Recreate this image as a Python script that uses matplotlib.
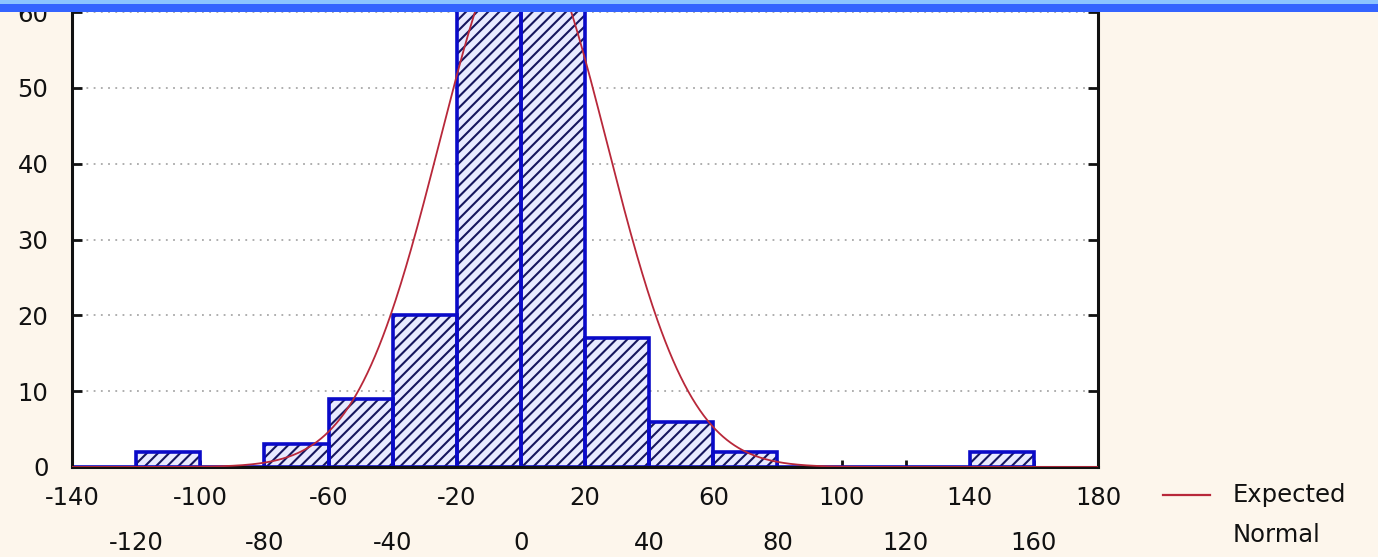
import numpy as np
import matplotlib
matplotlib.use("Agg")
import matplotlib.pyplot as plt
from matplotlib.patches import Rectangle
from matplotlib.ticker import FixedLocator, FixedFormatter

plt.rcParams['axes.unicode_minus'] = False
plt.rcParams['font.family'] = ['DejaVu Sans']
plt.rcParams['hatch.linewidth'] = 1.5

# Histogram data (bins of width 20); central bars exceed the visible range
bin_left = [-140, -120, -100, -80, -60, -40, -20, 0, 20, 40, 60, 80, 100, 120, 140]
counts = [0, 2, 0, 3, 9, 20, 84, 86, 17, 6, 2, 0, 0, 0, 2]
bin_width = 20

# Expected normal parameters
normal_mean = 0.7
normal_sd = 26.0
normal_n = 231

xticks_row1 = [-140, -100, -60, -20, 20, 60, 100, 140, 180]
xticks_row2 = [-120, -80, -40, 0, 40, 80, 120, 160]
yticks = [0, 10, 20, 30, 40, 50, 60]

W, H = 1378, 557
fig = plt.figure(figsize=(W / 100, H / 100), dpi=100)
fig.patch.set_facecolor('#fdf6ec')

ax = fig.add_axes([72 / W, 1 - 467 / H, (1098 - 72) / W, (467 - 12) / H])
ax.set_facecolor('white')
ax.set_xlim(-140, 180)
ax.set_ylim(0, 60)

# grid
for yv in yticks[1:]:
    ax.axhline(yv, color='#a8a8a8', lw=1.3, ls=(0, (1, 3)), zorder=0.5)

# hatched fill
ax.bar(bin_left, counts, width=bin_width, align='edge', facecolor='#e8eaff',
       edgecolor='#16165e', hatch='///', linewidth=0, zorder=1)
# blue outlines
ax.bar(bin_left, counts, width=bin_width, align='edge', facecolor='none',
       edgecolor='#0a0ac8', linewidth=2.6, zorder=2)

# expected normal curve
xs = np.linspace(-140, 180, 800)
ys = normal_n * bin_width / (normal_sd * np.sqrt(2 * np.pi)) * np.exp(-(xs - normal_mean) ** 2 / (2 * normal_sd ** 2))
ax.plot(xs, ys, color='#b8283a', lw=1.3, zorder=3, clip_on=True)

# spines
for s in ['left', 'right', 'bottom']:
    ax.spines[s].set_color('#111111')
    ax.spines[s].set_linewidth(2.2)
ax.spines['top'].set_visible(False)
ax.spines['bottom'].set_zorder(2.5)

# ticks
ax.set_yticks(yticks)
ax.set_yticklabels([str(v) for v in yticks])
ax.tick_params(axis='y', which='both', direction='in', length=7, width=2,
               left=True, right=True, labelsize=17.5, pad=17, colors='#111111')
ax.xaxis.set_major_locator(FixedLocator(xticks_row1))
ax.xaxis.set_major_formatter(FixedFormatter([str(v) for v in xticks_row1]))
ax.xaxis.set_minor_locator(FixedLocator(xticks_row2))
ax.xaxis.set_minor_formatter(FixedFormatter([str(v) for v in xticks_row2]))
ax.tick_params(axis='x', which='major', direction='in', length=5, width=2,
               labelsize=17.5, pad=14, colors='#111111')
ax.tick_params(axis='x', which='minor', direction='in', length=5, width=2,
               labelsize=17.5, pad=46, colors='#111111')

# legend
fig.add_artist(plt.Line2D([1163 / W, 1210 / W], [1 - 495 / H, 1 - 495 / H],
                          color='#b8283a', lw=1.6, transform=fig.transFigure))
fig.text(1233 / W, 1 - 495 / H, 'Expected', fontsize=17.5, va='center', ha='left',
         color='#111111')
fig.text(1233 / W, 1 - 535 / H, 'Normal', fontsize=17.5, va='center', ha='left',
         color='#111111')

# top blue band
fig.add_artist(Rectangle((0, 1 - 4 / H), 1, 4 / H, transform=fig.transFigure,
                         facecolor='#8cc4ff', edgecolor='none', zorder=10))
fig.add_artist(Rectangle((0, 1 - 12 / H), 1, 8 / H, transform=fig.transFigure,
                         facecolor='#3464ff', edgecolor='none', zorder=10))

fig.savefig('out.png', dpi=100, facecolor=fig.get_facecolor())
